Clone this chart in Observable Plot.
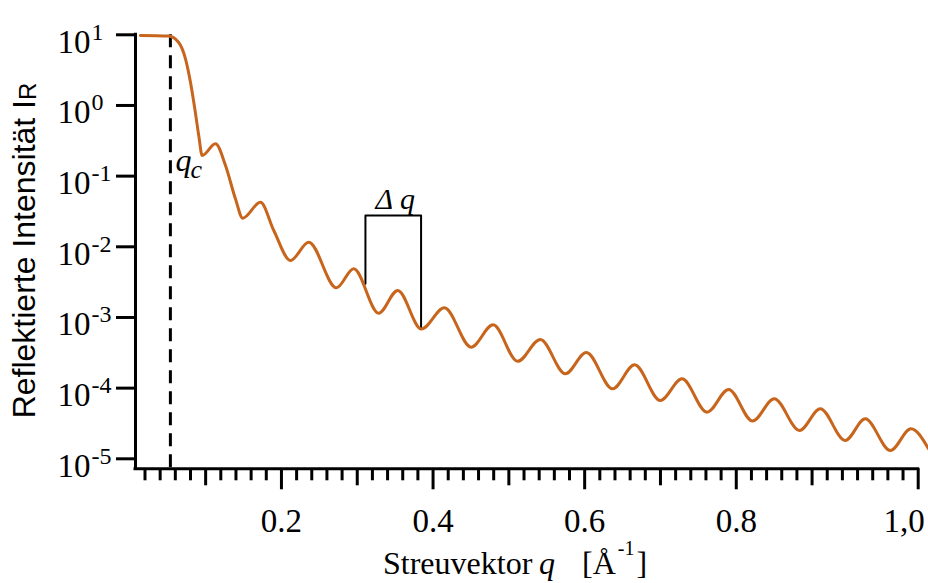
<!DOCTYPE html>
<html>
<head>
<meta charset="utf-8">
<script src="https://cdn.jsdelivr.net/npm/d3@7"></script>
<script src="https://cdn.jsdelivr.net/npm/@observablehq/plot@0.6"></script>
<style>
  html, body { margin: 0; padding: 0; background: #fff; }
  svg { display: block; }
</style>
</head>
<body>
<div id="chart"></div>
<script>
// ---- data ----
const qValues = [0.014, 0.051, 0.0642, 0.0734, 0.0800, 0.0857, 0.0909, 0.0954, 0.1130, 0.1262,
  0.1393, 0.1490, 0.1723, 0.1899, 0.2119, 0.2360, 0.2725, 0.2953, 0.3283, 0.3534,
  0.3846, 0.4150, 0.4502, 0.4792, 0.5116, 0.5415, 0.5745, 0.6022, 0.6369, 0.6659,
  0.6998, 0.7284, 0.7614, 0.7899, 0.8215, 0.8501, 0.8835, 0.9108, 0.9437, 0.9701,
  1.0034, 1.0304, 1.0536];
const intensity = [9.8, 9.6, 7.86, 4.58, 2.13, 0.897, 0.376, 0.196, 0.287, 0.1415,
  0.0478, 0.0254, 0.0428, 0.0170, 0.00640, 0.01162, 0.00263, 0.00489, 0.00115, 0.00241,
  0.000687, 0.00137, 0.000380, 0.000788, 0.000240, 0.000488, 0.000160, 0.000320, 0.0000980, 0.000214,
  0.0000669, 0.0001357, 0.0000457, 0.0000957, 0.0000343, 0.0000707, 0.0000252, 0.0000511, 0.0000182, 0.0000368,
  0.0000131, 0.0000266, 0.0000139];

const yTicks = [1e1, 1e0, 1e-1, 1e-2, 1e-3, 1e-4, 1e-5];
const yExponents = ["1", "0", "-1", "-2", "-3", "-4", "-5"];

const xMajorTicks = [0.2, 0.4, 0.6, 0.8];
const xMajorLabels = ["0.2", "0.4", "0.6", "0.8"];
const xEndTick = [1.04];
const xEndLabel = ["1,0"];
const xMediumTicks = [0.1, 0.3, 0.5, 0.7, 0.9];
const xMinorTicks = [0.02, 0.04, 0.06, 0.08, 0.12, 0.14, 0.16, 0.18, 0.22, 0.24, 0.26, 0.28,
  0.32, 0.34, 0.36, 0.38, 0.42, 0.44, 0.46, 0.48, 0.52, 0.54, 0.56, 0.58,
  0.62, 0.64, 0.66, 0.68, 0.72, 0.74, 0.76, 0.78, 0.82, 0.84, 0.86, 0.88,
  0.92, 0.94, 0.96, 0.98, 1.00, 1.02];

const qCritical = 0.0535;
const qcLabelI = 0.1164;
const bracketQ = [0.3108, 0.3108, 0.3842, 0.3842];
const bracketI = [0.0030, 0.0277, 0.0277, 0.00073];

const xDomain = [0.00747, 1.04];
const yDomain = [7.22e-6, 10];

// ---- tables built from the arrays ----
const curve = qValues.map((q, i) => ({q, I: intensity[i]}));
const bracket = bracketQ.map((q, i) => ({q, I: bracketI[i]}));
const deltaLabel = [{q: (bracketQ[1] + bracketQ[2]) / 2, I: bracketI[1]}];
const qcLabel = [{q: qCritical, I: qcLabelI}];

const serif = "'Liberation Serif', 'Times New Roman', serif";
const sans = "'Liberation Sans', Arial, sans-serif";
const noText = () => "";

const plot = Plot.plot({
  width: 928,
  height: 583,
  marginLeft: 135,
  marginRight: 10.3,
  marginTop: 34.3,
  marginBottom: 114.7,
  style: {fontFamily: serif, fontSize: "32px", background: "#fff", color: "#000", overflow: "visible"},
  x: {domain: xDomain},
  y: {type: "log", domain: yDomain},
  marks: [
    Plot.ruleX([qCritical], {stroke: "#000", strokeWidth: 3, strokeDasharray: "13,8"}),
    Plot.line(bracket, {x: "q", y: "I", stroke: "#000", strokeWidth: 2}),
    Plot.line(curve, {x: "q", y: "I", stroke: "#c8651d", strokeWidth: 3, curve: "monotone-x"}),
    Plot.axisY(yTicks, {tickSize: 19, tickFormat: noText, label: null, strokeWidth: 3}),
    Plot.axisX(xMinorTicks, {tickSize: 12, tickFormat: noText, label: null, strokeWidth: 3}),
    Plot.axisX(xMediumTicks, {tickSize: 17, tickFormat: noText, label: null, strokeWidth: 3}),
    Plot.axisX(xMajorTicks.concat(xEndTick), {tickSize: 21, tickFormat: noText, label: null, strokeWidth: 3}),
    Plot.ruleX([xDomain[0]], {stroke: "#000", strokeWidth: 3, strokeLinecap: "square"}),
    Plot.ruleY([yDomain[0]], {stroke: "#000", strokeWidth: 3, strokeLinecap: "square"}),
    Plot.text(yTicks, {y: d => d, text: () => "10", frameAnchor: "left", dx: -45, dy: 18,
      textAnchor: "end", lineAnchor: "bottom", fontSize: 33, fontFamily: serif}),
    Plot.text(yTicks, {y: d => d, text: (d, i) => yExponents[i], frameAnchor: "left", dx: -44, dy: 5,
      textAnchor: "start", lineAnchor: "bottom", fontSize: 24, fontFamily: serif}),
    Plot.text(xMajorTicks, {x: d => d, text: (d, i) => xMajorLabels[i], frameAnchor: "bottom", dy: 63,
      lineAnchor: "bottom", fontSize: 33, fontFamily: serif}),
    Plot.text(xEndTick, {x: d => d, text: (d, i) => xEndLabel[i], frameAnchor: "bottom", dy: 63, dx: -14,
      lineAnchor: "bottom", fontSize: 33, fontFamily: serif}),
    Plot.text(qcLabel, {x: "q", y: "I", text: () => "q", dx: 5, textAnchor: "start", lineAnchor: "bottom",
      fontStyle: "italic", fontSize: 32, fontFamily: serif}),
    Plot.text(qcLabel, {x: "q", y: "I", text: () => "c", dx: 20, dy: 7, textAnchor: "start", lineAnchor: "bottom",
      fontStyle: "italic", fontSize: 26, fontFamily: serif}),
    Plot.text(deltaLabel, {x: "q", y: "I", text: () => "Δ q", dx: 2, dy: -6.5, lineAnchor: "bottom",
      fontStyle: "italic", fontSize: 30, fontFamily: serif})
  ]
});

const svg = d3.select(plot);
// y-axis title
const yt = svg.append("text")
  .attr("transform", "translate(35,250.5) rotate(-90)")
  .attr("text-anchor", "middle")
  .attr("fill", "#000")
  .style("font-family", sans)
  .style("font-size", "32px");
yt.append("tspan").text("Reflektierte Intensität I");
yt.append("tspan").attr("font-size", 24).attr("dy", 1).text("R");

// x-axis title
const xt = svg.append("text")
  .attr("y", 574)
  .attr("text-anchor", "start")
  .attr("fill", "#000")
  .style("font-family", serif)
  .style("font-size", "32px");
xt.append("tspan").attr("x", 383).text("Streuvektor");
xt.append("tspan").attr("x", 539).attr("font-style", "italic").text("q");
xt.append("tspan").attr("x", 582).text("[Å");
xt.append("tspan").attr("dx", 2).attr("dy", -19).attr("font-size", 20).text("-1");
xt.append("tspan").attr("dx", 2).attr("dy", 19).text("]");

document.getElementById("chart").appendChild(plot);
</script>
</body>
</html>
